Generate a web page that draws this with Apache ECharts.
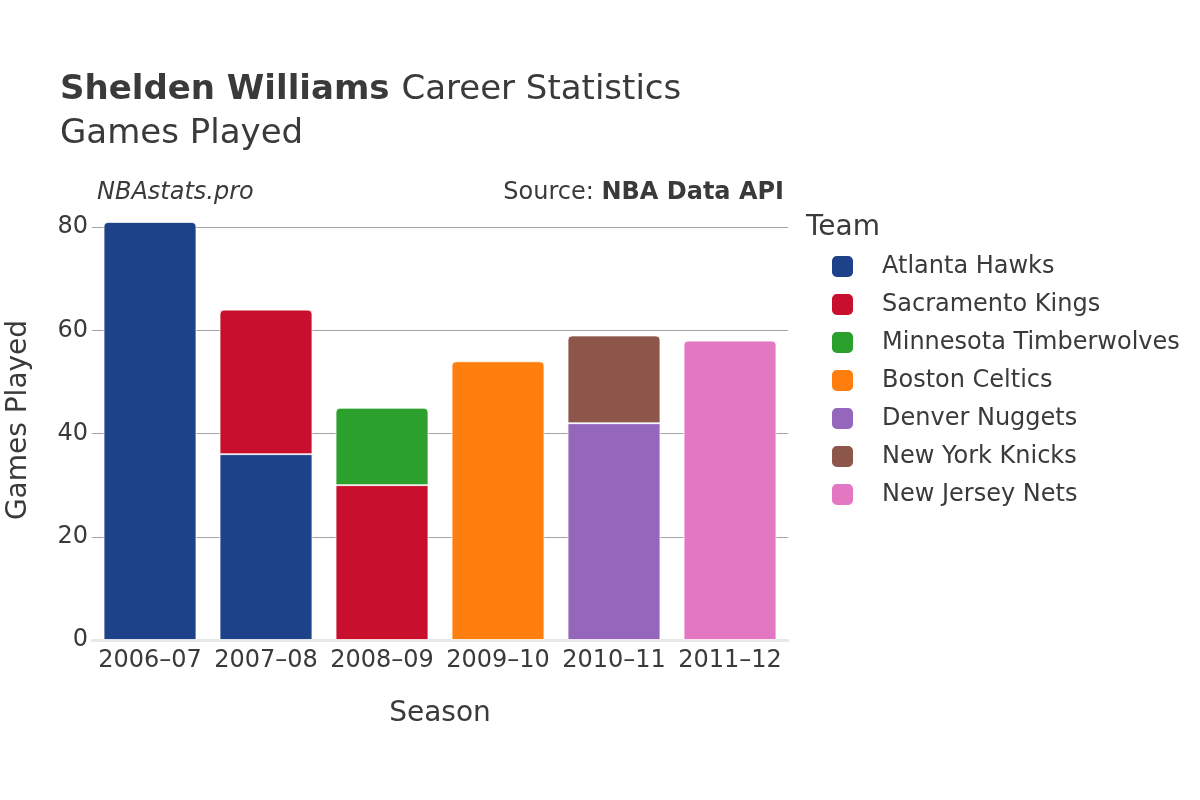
<!DOCTYPE html>
<html>
<head>
<meta charset="utf-8">
<script src="https://cdn.jsdelivr.net/npm/echarts@6/dist/echarts.min.js"></script>
<style>html,body{margin:0;padding:0;background:#fff}#c{width:1200px;height:800px}</style>
</head>
<body>
<div id="c"></div>
<script>
const seasons = ['2006–07','2007–08','2008–09','2009–10','2010–11','2011–12'];
const teams = ['Atlanta Hawks','Sacramento Kings','Minnesota Timberwolves','Boston Celtics','Denver Nuggets','New York Knicks','New Jersey Nets'];
const teamColors = ['#1d428a','#c8102e','#2ca02c','#ff7f0e','#9467bd','#8c564b','#e377c2'];
const atlantaHawks = [81, 36, null, null, null, null];
const sacramentoKings = [null, 28, 30, null, null, null];
const minnesotaTimberwolves = [null, null, 15, null, null, null];
const bostonCeltics = [null, null, null, 54, null, null];
const denverNuggets = [null, null, null, null, 42, null];
const newYorkKnicks = [null, null, null, null, 17, null];
const newJerseyNets = [null, null, null, null, null, 58];
const yTicks = [0, 20, 40, 60, 80];

const values = [atlantaHawks, sacramentoKings, minnesotaTimberwolves, bostonCeltics, denverNuggets, newYorkKnicks, newJerseyNets];
const FONT = 'DejaVu Sans';
const TXT = '#3a3a3a';

const series = teams.map((t, si) => ({
  name: t,
  type: 'bar',
  stack: 'g',
  barCategoryGap: '20%',
  itemStyle: { color: teamColors[si], borderColor: '#fff', borderWidth: 0.8 },
  data: values[si].map((v, ci) => {
    if (v == null) return '-';
    let top = true;
    for (let k = si + 1; k < values.length; k++) if (values[k][ci] != null) top = false;
    return { value: v, itemStyle: { borderRadius: top ? [4,4,0,0] : 0 } };
  })
}));

const chart = echarts.init(document.getElementById('c'), null, { renderer: 'canvas' });
chart.setOption({
  animation: false,
  backgroundColor: '#fff',
  textStyle: { fontFamily: FONT },
  title: {
    left: 60, top: 68, padding: 0,
    text: '{b|Shelden Williams }{n|Career Statistics}\n{n|Games Played}',
    textStyle: {
      fontFamily: FONT, lineHeight: 44, fontWeight: 'normal',
      rich: {
        b: { fontFamily: FONT, fontSize: 34, fontWeight: 'bold', color: TXT, lineHeight: 44 },
        n: { fontFamily: FONT, fontSize: 34, fontWeight: 'normal', color: TXT, lineHeight: 44 }
      }
    }
  },
  graphic: [
    { type: 'text', left: 97, top: 181, style: { text: 'NBAstats.pro', font: 'italic 24px "DejaVu Sans"', fill: TXT } },
    { type: 'text', right: 416, top: 181, style: { rich: { a: { fontFamily: FONT, fontSize: 24, fill: TXT }, b: { fontFamily: FONT, fontSize: 24, fontWeight: 'bold', fill: TXT } }, text: '{a|Source: }{b|NBA Data API}' } },
    { type: 'text', left: 806, top: 214, style: { text: 'Team', font: '28px "DejaVu Sans"', fill: TXT } }
  ],
  legend: {
    orient: 'vertical', left: 830, top: 254, padding: 0,
    itemWidth: 23, itemHeight: 23, itemGap: 13,
    icon: 'roundRect',
    data: teams,
    textStyle: { fontFamily: FONT, fontSize: 24, color: TXT, padding: [0,0,0,23], lineHeight: 23 }
  },
  grid: { left: 92, right: 412, top: 200, bottom: 160, containLabel: false, outerBoundsMode: 'none' },
  xAxis: {
    type: 'category', data: seasons,
    name: 'Season', nameLocation: 'middle', nameGap: 60,
    nameTextStyle: { fontFamily: FONT, fontSize: 28, color: TXT },
    axisLine: { show: true, lineStyle: { color: '#e8e8e8', width: 3 } },
    axisTick: { show: false },
    axisLabel: { fontFamily: FONT, fontSize: 24, color: TXT, margin: 9, interval: 0, hideOverlap: false }
  },
  yAxis: {
    type: 'value', min: 0, max: 85.26, interval: 20,
    name: 'Games Played', nameLocation: 'middle', nameGap: 59, nameRotate: 90,
    nameTextStyle: { fontFamily: FONT, fontSize: 28, color: TXT },
    axisLine: { show: false }, axisTick: { show: false },
    axisLabel: { fontFamily: FONT, fontSize: 24, color: TXT, margin: 4, showMaxLabel: false, padding: [5,0,0,0],
      formatter: v => yTicks.includes(v) ? String(v) : '' },
    splitLine: { lineStyle: { color: ['transparent', '#a4a4a4', '#a4a4a4', '#a4a4a4', '#a4a4a4', 'transparent'], width: 1 } }
  },
  series: series
});
</script>
</body>
</html>
